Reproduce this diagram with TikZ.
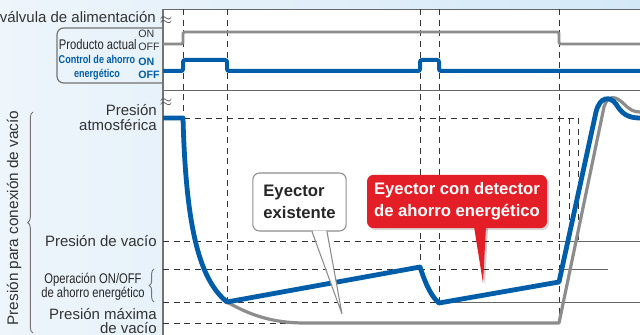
\documentclass[tikz,border=0pt]{standalone}
\usepackage{fontspec}
\setmainfont{Liberation Sans}
\newfontfamily\narrowfont[FakeStretch=0.8]{Liberation Sans}
\usetikzlibrary{calc,decorations.pathreplacing,shadows}

\definecolor{sigblue}{RGB}{0,93,170}
\definecolor{siggray}{RGB}{140,140,140}
\definecolor{callred}{RGB}{228,30,38}
\definecolor{bgA}{RGB}{238,245,251}
\definecolor{bgB}{RGB}{212,233,248}

\begin{document}
\begin{tikzpicture}[x=0.75pt, y=-0.75pt,
    lbl/.style={font=\fontsize{11.25}{11.5}\selectfont, text=black!80, inner sep=0pt},
    small/.style={font=\fontsize{10.5}{10.5}\selectfont\narrowfont, text=black!85, inner sep=0pt},
    onoff/.style={font=\fontsize{8}{10}\selectfont, text=black!80, inner sep=0pt, align=left},
    guide/.style={black!80, line width=0.6pt, dash pattern=on 4.5pt off 3.5pt},
    rule/.style={black!60, line width=0.6pt},
    frame/.style={black!55, line width=0.9pt},
    bluesig/.style={sigblue, line width=3pt, rounded corners=1.5pt},
    graysig/.style={siggray, line width=2.2pt, rounded corners=1pt},
    bluecurve/.style={sigblue, line width=3.6pt, line join=round},
    graycurve/.style={siggray, line width=2.4pt, line join=round},
    oldbox/.style={draw=black!45, fill=white, rounded corners=5pt, line width=0.8pt,
      minimum width=70pt, minimum height=43.5pt, align=left, text=black!85,
      font=\fontsize{12.5}{16}\selectfont\bfseries},
    newbox/.style={fill=callred, rounded corners=5pt, minimum width=135pt, minimum height=40pt,
      align=center, text=white, font=\fontsize{12.5}{16.5}\selectfont\bfseries,
      drop shadow={opacity=0.3, shadow xshift=1.5pt, shadow yshift=-1.5pt}},
  ]
  \useasboundingbox (0,0) rectangle (640,335);
  \shade[left color=bgA, right color=bgB] (0,0) rectangle (640,335);
  \fill[white] (163,9) rectangle (640,335);

  % axis and rows
  \draw[rule] (163,9) -- (640,9);
  \draw[rule] (163,90) -- (640,90);
  \draw[frame] (163,9) -- (163,335);
  \draw[frame, rounded corners=5pt] (163,28) -- (57,28) -- (57,83) -- (163,83);

  % timing guides
  \foreach \t/\e in {183/118, 227/302, 420/267, 439/303, 559/323}
    \draw[guide] (\t,9) -- (\t,\e);
  \draw[guide] (569,118) -- (569,240);
  \draw[guide] (578,118) -- (578,240);

  % pressure levels
  \draw[guide] (163,118) -- (578,118);
  \draw[guide] (163,241) -- (560,241);
  \draw[guide] (163,269) -- (560,269);
  \draw[guide] (163,302) -- (439,302);
  \draw[guide] (163,323) -- (559,323);
  \draw[rule] (560,241) -- (640,241);
  \draw[rule] (560,269) -- (608,269);
  \draw[rule] (439,302) -- (640,302);

  % supply valve signals
  \draw[graysig] (163,44) -- (183,44) -- (183,32) -- (559,32) -- (559,44) -- (640,44);
  \draw[bluesig] (163,71) -- (183,71) -- (183,60) -- (227,60) -- (227,71)
    -- (420,71) -- (420,60) -- (439,60) -- (439,71) -- (640,71);

  % vacuum pressure
  \draw[graycurve] (227,302) .. controls (250,315) and (272,323) .. (305,323) -- (559,323)
    -- (604,107) .. controls (608,94) and (616,96) .. (624,104)
    .. controls (630,110) and (634,112) .. (640,112);
  \draw[bluecurve] (163,118) -- (183,118) .. controls (186,230) and (200,280) .. (227,302)
    -- (420,267) .. controls (426,285) and (431,296) .. (439,303) -- (559,282)
    -- (596,112) .. controls (600,96) and (610,96) .. (616,104)
    .. controls (622,114) and (628,118) .. (640,118);

  % left labels
  \node (valve) at (156,17) [left, lbl] {válvula de alimentación};
  \node (brk1) at (166,21) [text=black!70, inner sep=0pt, font=\large] {$\approx$};
  \node (brk2) at (166,103) [text=black!70, inner sep=0pt, font=\large] {$\approx$};
  \node (prod) at (137,44) [left, small] {Producto actual};
  \node (prodon) at (138,40) [right, onoff] {ON\\OFF};
  \node (ctrl) at (97,68) [small, align=center, text=sigblue,
    font=\fontsize{8.5}{10.5}\selectfont\narrowfont\bfseries] {Control de ahorro\\energético};
  \node (ctrlon) at (138,68.5) [right, onoff, text=sigblue, font=\fontsize{8}{10}\selectfont\bfseries] {ON\\OFF};
  \node (atm) at (157,117.5) [left, lbl, align=right] {Presión\\atmosférica};
  \node (vac) at (157,241) [left, lbl] {Presión de vacío};
  \node (oper) at (93,287) [small, align=center, font=\fontsize{10.5}{10.5}\selectfont\narrowfont] {Operación ON/OFF\\de ahorro energético};
  \node (maxv) at (157,321) [left, lbl, align=right, font=\fontsize{11.25}{10}\selectfont] {Presión máxima\\de vacío};
  \node (axis) at (14,218) [lbl, rotate=90, font=\fontsize{11.5}{12}\selectfont] {Presión para conexión de vacío};
  \draw[frame, line width=0.7pt, decorate, decoration={brace, amplitude=4pt}] (33,333) -- (33,112);
  \draw[frame, line width=0.7pt, decorate, decoration={brace, amplitude=3.5pt}] (154,302) -- (154,269);

  % callouts
  \coordinate (oldtip) at (342,314);
  \coordinate (newtip) at (483,283);
  \node (old) at (299.5,202) [oldbox] {Eyector\\existente};
  \fill[white] ($(old.south)+(13.3,-1)$) -- (oldtip) -- ($(old.south)+(26.7,-1)$) -- cycle;
  \draw[black!45, line width=0.8pt] ($(old.south)+(12.5,0)$) -- (oldtip) -- ($(old.south)+(27.5,0)$);
  \node (new) at (457,201.5) [newbox] {Eyector con detector\\de ahorro energético};
  \fill[black, opacity=0.2] ($(new.south)+(19,0)$) -- ($(newtip)+(2,2)$) -- ($(new.south)+(31,0)$) -- cycle;
  \fill[callred] ($(new.south)+(17,-2)$) -- (newtip) -- ($(new.south)+(29,-2)$) -- cycle;
\end{tikzpicture}
\end{document}
